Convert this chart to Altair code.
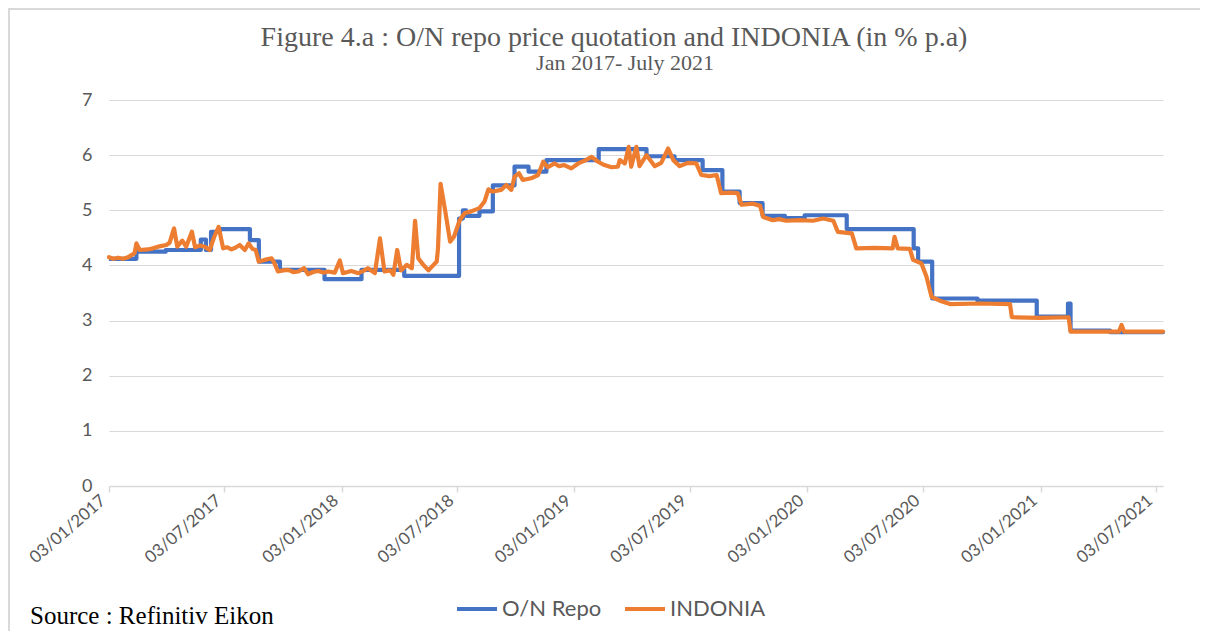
import altair as alt
import pandas as pd

series_names = ["O/N Repo", "INDONIA"]
series_colors = ["#4472C4", "#ED7D31"]

repo_dates = [
    "2017-01-03", "2017-02-15", "2017-04-02", "2017-05-27", "2017-06-04", "2017-06-12",
    "2017-06-26", "2017-08-12", "2017-08-26", "2017-09-28", "2017-12-07", "2018-02-03",
    "2018-04-11", "2018-07-06", "2018-07-12", "2018-07-17", "2018-08-07", "2018-08-28",
    "2018-10-01", "2018-10-23", "2018-11-20", "2019-02-10", "2019-04-26", "2019-06-09",
    "2019-07-23", "2019-08-23", "2019-09-19", "2019-10-25", "2019-11-29", "2019-12-30",
    "2020-03-05", "2020-06-18", "2020-06-25", "2020-07-17", "2020-09-26", "2020-12-28",
    "2021-02-15", "2021-02-19", "2021-04-22", "2021-07-14",
]
repo_values = [
    4.12, 4.25, 4.28, 4.47, 4.28, 4.61,
    4.66, 4.46, 4.07, 3.92, 3.75, 3.92,
    3.81, 4.85, 5.00, 4.90, 4.98, 5.45,
    5.79, 5.70, 5.91, 6.11, 5.98, 5.91,
    5.73, 5.34, 5.13, 4.90, 4.86, 4.91,
    4.66, 4.31, 4.07, 3.40, 3.36, 3.07,
    3.31, 2.82, 2.79, 2.80,
]

indonia_dates = [
    "2017-01-03", "2017-01-10", "2017-01-17", "2017-01-25", "2017-02-02", "2017-02-12",
    "2017-02-15", "2017-02-20", "2017-03-05", "2017-03-13", "2017-03-21", "2017-04-03",
    "2017-04-08", "2017-04-15", "2017-04-20", "2017-04-28", "2017-05-04", "2017-05-13",
    "2017-05-18", "2017-05-26", "2017-06-02", "2017-06-10", "2017-06-17", "2017-06-24",
    "2017-07-01", "2017-07-07", "2017-07-14", "2017-07-20", "2017-07-27", "2017-08-04",
    "2017-08-10", "2017-08-16", "2017-08-21", "2017-08-26", "2017-09-04", "2017-09-15",
    "2017-09-19", "2017-09-25", "2017-10-03", "2017-10-11", "2017-10-19", "2017-10-27",
    "2017-11-05", "2017-11-11", "2017-11-19", "2017-11-27", "2017-12-05", "2017-12-13",
    "2017-12-23", "2017-12-31", "2018-01-05", "2018-01-12", "2018-01-18", "2018-01-29",
    "2018-02-06", "2018-02-13", "2018-02-24", "2018-03-04", "2018-03-11", "2018-03-20",
    "2018-03-25", "2018-03-31", "2018-04-06", "2018-04-15", "2018-04-23", "2018-04-28",
    "2018-05-03", "2018-05-11", "2018-05-19", "2018-05-27", "2018-06-01", "2018-06-03",
    "2018-06-07", "2018-06-14", "2018-06-22", "2018-06-28", "2018-07-07", "2018-07-15",
    "2018-07-25", "2018-08-07", "2018-08-15", "2018-08-21", "2018-08-28", "2018-09-10",
    "2018-09-18", "2018-09-26", "2018-10-01", "2018-10-08", "2018-10-14", "2018-10-27",
    "2018-11-07", "2018-11-15", "2018-11-22", "2018-12-03", "2018-12-10", "2018-12-18",
    "2018-12-29", "2019-01-09", "2019-01-19", "2019-01-30", "2019-02-09", "2019-02-19",
    "2019-03-02", "2019-03-12", "2019-03-15", "2019-03-23", "2019-03-29", "2019-04-02",
    "2019-04-10", "2019-04-15", "2019-04-26", "2019-05-09", "2019-05-19", "2019-05-30",
    "2019-06-07", "2019-06-17", "2019-06-30", "2019-07-13", "2019-07-21", "2019-08-03",
    "2019-08-14", "2019-08-21", "2019-09-03", "2019-09-16", "2019-09-22", "2019-10-10",
    "2019-10-21", "2019-10-26", "2019-11-10", "2019-11-20", "2019-12-01", "2019-12-22",
    "2020-01-12", "2020-01-28", "2020-02-13", "2020-02-20", "2020-03-13", "2020-03-20",
    "2020-04-18", "2020-05-16", "2020-05-19", "2020-05-24", "2020-06-12", "2020-06-17",
    "2020-06-30", "2020-07-08", "2020-07-16", "2020-07-29", "2020-08-14", "2020-09-30",
    "2020-11-16", "2020-11-19", "2021-01-02", "2021-02-16", "2021-02-19", "2021-04-06",
    "2021-05-06", "2021-05-10", "2021-05-14", "2021-07-14",
]
indonia_values = [
    4.15, 4.12, 4.14, 4.12, 4.15, 4.22,
    4.40, 4.28, 4.29, 4.31, 4.34, 4.37,
    4.41, 4.67, 4.34, 4.45, 4.34, 4.61,
    4.33, 4.36, 4.34, 4.28, 4.52, 4.70,
    4.31, 4.33, 4.29, 4.32, 4.37, 4.28,
    4.40, 4.30, 4.28, 4.07, 4.10, 4.13,
    4.05, 3.89, 3.91, 3.92, 3.88, 3.89,
    3.95, 3.84, 3.88, 3.90, 3.87, 3.89,
    3.87, 4.09, 3.86, 3.88, 3.90, 3.86,
    3.90, 3.95, 3.86, 4.49, 3.89, 3.91,
    3.83, 4.28, 3.91, 4.01, 3.95, 4.81,
    4.13, 4.01, 3.91, 4.01, 4.07, 4.31,
    5.48, 5.01, 4.43, 4.52, 4.82, 4.95,
    4.98, 5.04, 5.16, 5.38, 5.34, 5.37,
    5.46, 5.37, 5.61, 5.67, 5.55, 5.58,
    5.64, 5.88, 5.78, 5.85, 5.80, 5.82,
    5.76, 5.85, 5.90, 5.97, 5.88, 5.82,
    5.78, 5.79, 5.91, 5.85, 6.15, 5.79,
    6.15, 5.80, 6.00, 5.80, 5.86, 6.12,
    5.91, 5.80, 5.86, 5.85, 5.64, 5.62,
    5.64, 5.31, 5.32, 5.31, 5.10, 5.12,
    5.08, 4.88, 4.82, 4.84, 4.81, 4.82,
    4.81, 4.85, 4.81, 4.61, 4.58, 4.31,
    4.32, 4.31, 4.52, 4.31, 4.30, 4.10,
    4.04, 3.80, 3.43, 3.36, 3.30, 3.31,
    3.30, 3.06, 3.05, 3.06, 2.80, 2.80,
    2.80, 2.92, 2.80, 2.80,
]

tick_dates = [
    (2017, 1), (2017, 7), (2018, 1), (2018, 7), (2019, 1),
    (2019, 7), (2020, 1), (2020, 7), (2021, 1), (2021, 7),
]
y_ticks = [0, 1, 2, 3, 4, 5, 6, 7]

title_lines = ["Figure 4.a  : O/N repo price quotation and INDONIA (in % p.a)",
               "Jan 2017- July 2021"]
source_text = "Source : Refinitiv Eikon"

repo_df = pd.DataFrame({
    "date": [d + "T00:00:00" for d in repo_dates],
    "value": repo_values,
    "series": series_names[0],
})
indonia_df = pd.DataFrame({
    "date": [d + "T00:00:00" for d in indonia_dates],
    "value": indonia_values,
    "series": series_names[1],
})

W, H = 1054, 386

x_enc = alt.X(
    "date:T",
    scale=alt.Scale(domain=[alt.DateTime(year=2017, month=1, date=3),
                            alt.DateTime(year=2021, month=7, date=14)]),
    axis=alt.Axis(
        values=[alt.DateTime(year=y, month=m, date=3) for y, m in tick_dates],
        format="%d/%m/%Y", labelAngle=-41, labelAlign="right", labelBaseline="middle",
        labelFont="Lato", labelFontSize=17, labelOffset=-6,
        labelColor="#595959", domainColor="#D9D9D9", domainWidth=1.5,
        tickColor="#D9D9D9", tickSize=6, tickWidth=1.5, labelPadding=6,
        grid=False, title=None, labelOverlap=False, labelFlush=False,
    ),
)
y_enc = alt.Y(
    "value:Q",
    scale=alt.Scale(domain=[0, 7], nice=False, zero=True),
    axis=alt.Axis(
        values=y_ticks, labelFont="Lato", labelFontSize=18, labelColor="#595959",
        domain=False, ticks=False, labelPadding=17, gridColor="#D9D9D9",
        gridWidth=1.2, title=None,
    ),
)
color_enc = alt.Color(
    "series:N",
    scale=alt.Scale(domain=series_names, range=series_colors),
    legend=alt.Legend(
        title=None, orient="none", legendX=346, legendY=487, direction="horizontal",
        symbolType="stroke", symbolStrokeWidth=4, symbolSize=1600,
        labelFont="Lato", labelFontSize=22, labelColor="#595959",
        columnPadding=15, labelOffset=3,
    ),
    sort=series_names,
)

repo_line = alt.Chart(repo_df).mark_line(
    interpolate="step-after", strokeWidth=4.2, strokeJoin="round"
).encode(x=x_enc, y=y_enc, color=color_enc)

indonia_line = alt.Chart(indonia_df).mark_line(
    strokeWidth=4.2, strokeJoin="round", strokeCap="round"
).encode(x=x_enc, y=y_enc, color=color_enc)

title1 = alt.Chart(pd.DataFrame({"t": [title_lines[0]]})).mark_text(
    align="center", baseline="alphabetic", font="Liberation Serif", fontSize=28,
    color="#595959",
).encode(text="t:N", x=alt.value(505), y=alt.value(-54))
title2 = alt.Chart(pd.DataFrame({"t": [title_lines[1]]})).mark_text(
    align="center", baseline="alphabetic", font="Liberation Serif", fontSize=22,
    color="#595959",
).encode(text="t:N", x=alt.value(516), y=alt.value(-30))

source = alt.Chart(pd.DataFrame({"t": [source_text]})).mark_text(
    align="left", baseline="alphabetic", font="Liberation Serif", fontSize=25,
    color="#000000",
).encode(text="t:N", x=alt.value(-79), y=alt.value(524))

border_top = alt.Chart(pd.DataFrame({"k": [0]})).mark_rule(
    color="#D9D9D9", strokeWidth=2
).encode(x=alt.value(-101), x2=alt.value(1091), y=alt.value(-91))
border_left = alt.Chart(pd.DataFrame({"k": [0]})).mark_rule(
    color="#D9D9D9", strokeWidth=2
).encode(x=alt.value(-100), y=alt.value(-92), y2=alt.value(536))

chart = alt.layer(
    border_top, border_left, repo_line, indonia_line, title1, title2, source
).properties(
    width=W, height=H,
    autosize=alt.AutoSizeParams(type="none"),
    padding={"left": 101, "top": 92, "right": 37, "bottom": 145},
    background="white",
).configure_view(strokeWidth=0)

chart.save("out.html", embed_options={"renderer": "svg", "actions": False})
